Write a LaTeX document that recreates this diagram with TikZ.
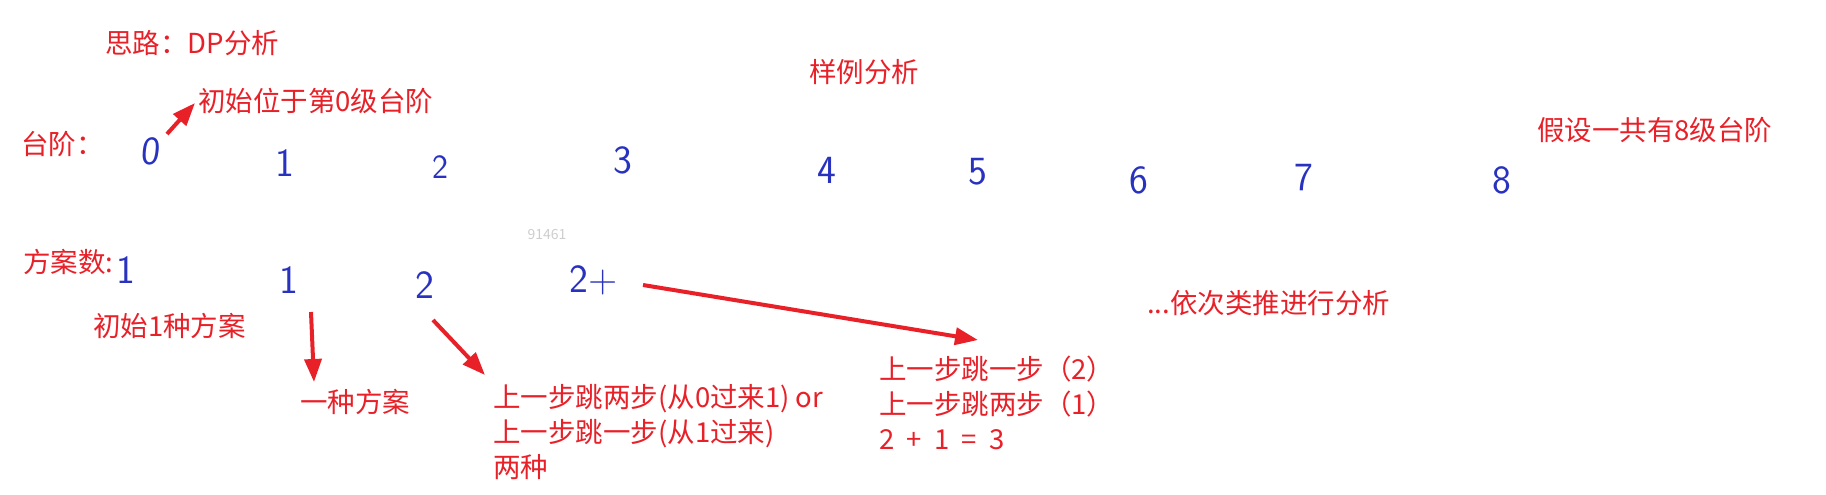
\documentclass[tikz,border=0pt]{standalone}
\usepackage{fontspec}
\setmainfont{Noto Sans CJK SC}
\usetikzlibrary{arrows.meta}
\definecolor{tred}{RGB}{232,32,40}
\definecolor{ink}{RGB}{40,50,190}
\definecolor{wmgray}{RGB}{205,205,205}
\tikzset{
  lbl/.style={text=tred, font=\fontsize{27.5}{35}\selectfont, inner sep=0pt, anchor=west, align=left},
  digit/.style={text=ink, font=\sffamily\fontsize{40}{40}\selectfont, inner sep=0pt},
  arr/.style={draw=tred, line width=4pt, -{Triangle[length=23pt,width=17pt]}}
}
\begin{document}
\begin{tikzpicture}[x=1pt,y=-1pt]
\useasboundingbox (0,0) rectangle (1826,495);
% titles
\node[lbl] (idea) at (105,43) {思路：DP分析};
\node[lbl] (sample) at (809,72) {样例分析};
\node[lbl] (init0) at (198,101) {初始位于第0级台阶};
\node[lbl] (steps) at (21,144) {台阶：};
\node[lbl] (assume) at (1537,130) {假设一共有8级台阶};
% step digits
\node[digit, xslant=0.1] (s0) at (151,151) {0};
\node[digit] (s1) at (285,163) {1};
\node[digit, font=\sffamily\fontsize{34}{34}\selectfont] (s2) at (440,167) {2};
\node[digit] (s3) at (623,160) {3};
\node[digit] (s4) at (827,170) {4};
\node[digit] (s5) at (978,172) {5};
\node[digit] (s6) at (1139,180) {6};
\node[digit] (s7) at (1304,178) {7};
\node[digit] (s8) at (1502,180) {8};
% watermark
\node[text=wmgray, font=\fontsize{14}{14}\selectfont, inner sep=0pt] (wm) at (547,235) {91461};
% ways row
\node[lbl] (ways) at (23,262) {方案数:};
\node[digit] (w0) at (126,270) {1};
\node[digit] (w1) at (289,280) {1};
\node[digit] (w2) at (425,285) {2};
\node[digit] (w3) at (594,280) {2+};
% explanations
\node[lbl] (init1) at (93,326) {初始1种方案};
\node[lbl] (one) at (300,402) {一种方案};
\node[lbl, anchor=north west] (two) at (493,384) {上一步跳两步(从0过来1) or\\上一步跳一步(从1过来)\\两种};
\node[lbl, anchor=north west] (three) at (879,356) {上一步跳一步（2）\\上一步跳两步（1）\\2\ \ +\ \ 1\ \ =\ \ 3};
\node[lbl] (etc) at (1147,303) {...依次类推进行分析};
% arrows
\coordinate (a0s) at (167,134);
\coordinate (a0e) at (195,103);
\draw[arr] (a0s) -- (a0e);
\coordinate (a1s) at (311,312);
\coordinate (a1e) at (314,382);
\draw[arr] (a1s) -- (a1e);
\coordinate (a2s) at (433,320);
\coordinate (a2e) at (485,375);
\draw[arr] (a2s) -- (a2e);
\coordinate (a3s) at (643,285);
\coordinate (a3e) at (978,340);
\draw[arr] (a3s) -- (a3e);
\end{tikzpicture}
\end{document}
